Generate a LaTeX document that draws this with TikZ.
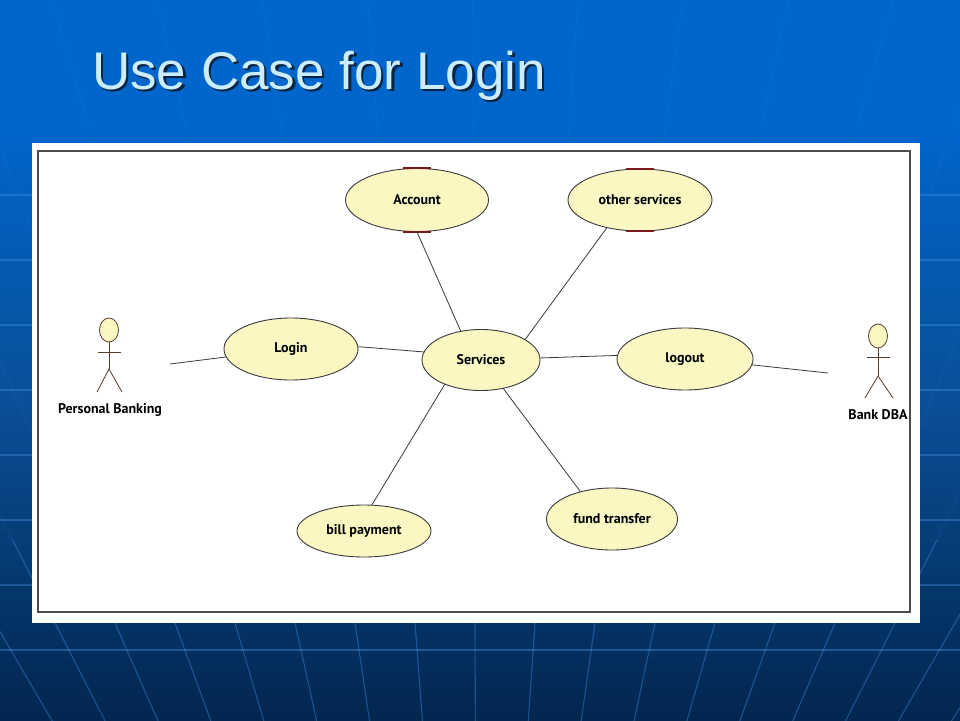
\documentclass[tikz,border=0pt]{standalone}
\usepackage{fontspec}
\setmainfont{Liberation Sans}
\newfontfamily\umlfont{PT Sans}
\usetikzlibrary{shapes.geometric,calc}
\definecolor{bgtop}{HTML}{0066CC}
\definecolor{bgmid}{HTML}{0A4F98}
\definecolor{bgbot}{HTML}{02264F}
\definecolor{gridc}{HTML}{3D86D6}
\definecolor{titlec}{HTML}{CCECFF}
\definecolor{shadowc}{HTML}{0A2340}
\definecolor{ucfill}{HTML}{FAF7C3}
\definecolor{ucline}{HTML}{3A3A3A}
\definecolor{ucred}{HTML}{7A1A1A}
\definecolor{actorc}{HTML}{5A3A2A}
\tikzset{
  usecase/.style={ellipse, draw=ucline, line width=0.9pt, fill=ucfill, inner sep=0pt,
    font=\umlfont\bfseries\fontsize{14}{16}\selectfont},
  link/.style={draw=ucline, line width=0.8pt},
  actorline/.style={draw=actorc, line width=0.8pt},
  actorhead/.style={ellipse, draw=actorc, line width=0.8pt, fill=ucfill, inner sep=0pt,
    minimum width=19pt, minimum height=24pt},
  actorlabel/.style={font=\umlfont\bfseries\fontsize{14}{16}\selectfont, text=black, inner sep=0pt},
  redmark/.style={draw=ucred, line width=2pt},
  gridline/.style={gridc, line width=1.1pt}
}
\begin{document}
\begin{tikzpicture}[x=1pt,y=-1pt]
\useasboundingbox (0,0) rectangle (960,720);
% background
\fill[bgtop] (0,0) rectangle (960,120);
\shade[top color=bgtop, bottom color=bgmid] (0,120) rectangle (960,400);
\shade[top color=bgmid, bottom color=bgbot] (0,400) rectangle (960,720);
\begin{scope}
\clip (0,0) rectangle (960,720);
\foreach \yy in {195,260,325,390,455,520,585,650}
  \draw[gridc, opacity=0.45, line width=1.6pt] (0,\yy) -- (960,\yy);
\end{scope}
\begin{scope}
\clip (0,540) rectangle (960,720);
\foreach \k in {-10,...,10}
  \draw[gridline, opacity=0.45] (478,1450) -- ($(478,1450)!1.9!(475+60*\k,623)$);
\end{scope}
\begin{scope}
\clip (0,0) rectangle (960,540);
\foreach \k in {-10,...,10}
  \draw[gridline, opacity=0.12] (478,1450) -- ($(478,1450)!1.9!(475+60*\k,623)$);
\end{scope}
% title with shadow
\node[anchor=base west, inner sep=0pt, text=titlec, font=\fontsize{53}{60}\selectfont] (title) at (92,89)
  {\rlap{\hspace{2.5pt}\raisebox{-2.5pt}{\textcolor{shadowc}{Use Case for Login}}}Use Case for Login};
% panel
\fill[white] (32,143) rectangle (920,623);
\draw[black!70, line width=1.6pt] (38,151) rectangle (910,612);
% use cases
\node[usecase, minimum width=143pt, minimum height=63pt] (acc) at (417,200) {Account};
\node[usecase, minimum width=144pt, minimum height=62pt] (oth) at (640,200) {other services};
\node[usecase, minimum width=134pt, minimum height=62pt] (login) at (291,349) {Login};
\node[usecase, minimum width=118pt, minimum height=61pt] (svc) at (481,360) {Services};
\node[usecase, minimum width=136pt, minimum height=62pt] (logout) at (685,359) {logout};
\node[usecase, minimum width=134pt, minimum height=52pt] (bill) at (364,531) {bill payment};
\node[usecase, minimum width=131pt, minimum height=62pt] (fund) at (612,519) {fund transfer};
\foreach \n in {acc,oth}{
  \draw[redmark] ($(\n.north)+(-14,0)$) -- ($(\n.north)+(14,0)$);
  \draw[redmark] ($(\n.south)+(-14,0)$) -- ($(\n.south)+(14,0)$);
}
% actor: Personal Banking
\node[actorhead] (pbhead) at (109,330) {};
\coordinate (pbhip) at (109,369);
\draw[actorline] (pbhead.south) -- (pbhip);
\draw[actorline] (98,352) -- (121,352);
\draw[actorline] (97,392) -- (pbhip) -- (122,392);
\node[actorlabel] (pblabel) at (110,410) {Personal Banking};
\coordinate (pbend) at (170,364);
% actor: Bank DBA
\node[actorhead] (dbhead) at (878,336) {};
\coordinate (dbhip) at (878,376);
\draw[actorline] (dbhead.south) -- (dbhip);
\draw[actorline] (867,357) -- (890,357);
\draw[actorline] (865,398) -- (dbhip) -- (893,398);
\node[actorlabel] (dblabel) at (878,415) {Bank DBA};
\coordinate (dbend) at (828,373);
% connectors
\draw[link] (pbend) -- (login.187);
\draw[link] (login.2) -- (svc.172);
\draw[link] (acc.south) -- (svc.125);
\draw[link] (oth.220) -- (svc.25);
\draw[link] (svc.2) -- (logout.177);
\draw[link] (logout.355) -- (dbend);
\draw[link] (svc.214) -- (bill.73);
\draw[link] (svc.308) -- (fund.139);
\end{tikzpicture}
\end{document}
